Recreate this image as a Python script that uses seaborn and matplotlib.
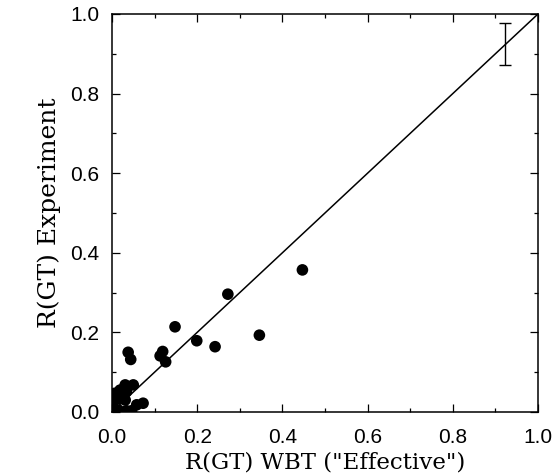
import seaborn as sns
import pandas as pd
import matplotlib.pyplot as plt
from matplotlib.ticker import MultipleLocator

# values
wbt = [0.447, 0.272, 0.199, 0.242, 0.346, 0.148, 0.038, 0.044, 0.119, 0.113,
       0.126, 0.031, 0.050, 0.019, 0.007, 0.034, 0.003, 0.015, 0.031, 0.073,
       0.058, 0.003, 0.015, 0.034, 0.046, 0.011]
experiment = [0.357, 0.296, 0.179, 0.164, 0.193, 0.214, 0.150, 0.132, 0.152, 0.141,
              0.126, 0.068, 0.068, 0.055, 0.047, 0.051, 0.026, 0.034, 0.030, 0.022,
              0.018, 0.009, 0.005, 0.003, 0.003, 0.001]
err_x = [0.922]
err_y = [0.925]
err_size = [0.052]
diag = [0.0, 1.0]


def make_plot():
    sns.set_style('ticks')
    plt.rcParams['font.family'] = ['Liberation Sans', 'DejaVu Sans']
    plt.rcParams['text.color'] = 'black'
    plt.rcParams['axes.labelcolor'] = 'black'
    plt.rcParams['xtick.labelcolor'] = 'black'
    plt.rcParams['ytick.labelcolor'] = 'black'

    df = pd.DataFrame({'WBT': wbt, 'Exp': experiment})

    fig = plt.figure(figsize=(5.56, 4.76), dpi=100)
    ax = fig.add_axes([0.2014, 0.1345, 0.7662, 0.8361])

    sns.lineplot(x=diag, y=diag, color='black', linewidth=1.1, ax=ax)
    sns.scatterplot(x='WBT', y='Exp', data=df, color='black', s=70,
                    edgecolor='none', ax=ax, zorder=3)
    ax.errorbar(err_x, err_y, yerr=err_size, fmt='none', ecolor='black',
                elinewidth=1.0, capsize=4, capthick=1.0)

    ax.set_xlim(0, 1)
    ax.set_ylim(0, 1)
    ax.xaxis.set_major_locator(MultipleLocator(0.2))
    ax.yaxis.set_major_locator(MultipleLocator(0.2))
    ax.xaxis.set_minor_locator(MultipleLocator(0.1))
    ax.yaxis.set_minor_locator(MultipleLocator(0.1))
    ax.xaxis.set_major_formatter(plt.FormatStrFormatter('%.1f'))
    ax.yaxis.set_major_formatter(plt.FormatStrFormatter('%.1f'))

    ax.tick_params(which='both', direction='in', top=True, right=True,
                   color='black', labelcolor='black', width=0.9)
    ax.tick_params(which='major', length=6, labelsize=15)
    ax.tick_params(axis='x', which='major', pad=11.5)
    ax.tick_params(axis='y', which='major', pad=9)
    ax.tick_params(which='minor', length=3)
    for sp in ax.spines.values():
        sp.set_color('black')
        sp.set_linewidth(1.1)

    ax.set_xlabel('R(GT) WBT ("Effective")', fontsize=16.5, family='DejaVu Serif',
                  labelpad=3, color='black')
    ax.set_ylabel('R(GT) Experiment', fontsize=18, family='DejaVu Serif',
                  labelpad=7, color='black')

    fig.savefig('out.png', dpi=100)


def main():
    make_plot()


if __name__ == "__main__":
    main()
